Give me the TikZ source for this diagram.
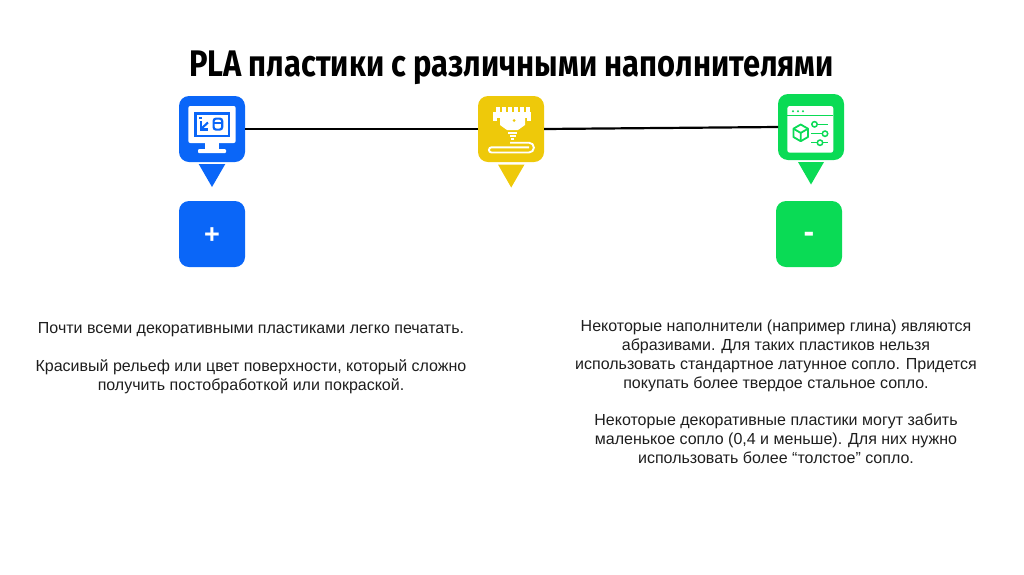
\documentclass[tikz,border=0pt]{standalone}
\usepackage{fontspec}
\setmainfont{Liberation Sans}
\newfontfamily\titlefont[FakeStretch=0.835]{Fira Sans}
\definecolor{tileblue}{HTML}{0A66F8}
\definecolor{tileyellow}{HTML}{EEC90A}
\definecolor{tilegreen}{HTML}{0ADB55}
\definecolor{bodytext}{HTML}{1E1E1E}
\tikzset{
  tile/.style={minimum size=66pt,inner sep=0pt,outer sep=0pt,rounded corners=10pt,text=white,
    font=\fontsize{27}{27}\selectfont\bfseries},
  wire/.style={line width=2.2pt,black},
  note/.style={align=center,text=bodytext,inner sep=0pt,font=\fontsize{16}{19}\selectfont},
  iconline/.style={white,line width=1.9pt}
}
\begin{document}
\begin{tikzpicture}[x=1pt,y=-1pt]
  \useasboundingbox (0,0) rectangle (1024,574);
  \node (title) at (511.5,68) [font=\fontsize{37}{37}\selectfont\titlefont\bfseries,inner sep=0pt] {PLA пластики с различными наполнителями};
  % icon tiles
  \node (tile_monitor) at (212,129) [tile,fill=tileblue] {};
  \node (tile_printer) at (511,129) [tile,fill=tileyellow] {};
  \node (tile_window) at (811,127) [tile,fill=tilegreen] {};
  \draw[wire] (tile_monitor.east) -- (tile_printer.west);
  \draw[wire] (tile_printer.east) -- (tile_window.west);
  % pointers
  \fill[tileblue] (198.7,164) -- (225.3,164) -- (212,187) -- cycle;
  \fill[tileyellow] (498,164.5) -- (524.5,164.5) -- (511.2,187.5) -- cycle;
  \fill[tilegreen] (798,162) -- (824,162) -- (811,184.5) -- cycle;
  % plus and minus tiles
  \node (tile_plus) at (212,234) [tile,fill=tileblue] {\raisebox{-9pt}[7pt][7pt]{+}};
  \node (tile_minus) at (809,234) [tile,fill=tilegreen,font=\fontsize{32}{32}\selectfont\bfseries] {\raisebox{-8.4pt}[2.1pt][2.1pt]{-}};
  % monitor icon
  \fill[white,rounded corners=2pt] (188.3,106) rectangle (235.7,143);
  \fill[tileblue] (194,112) rectangle (230,137);
  \fill[white] (196.5,114.5) rectangle (227.5,134.5);
  \fill[white] (205,143) rectangle (219,149);
  \fill[white,rounded corners=1pt] (198,149) rectangle (226,153);
  \fill[tileblue] (199.3,116.5) rectangle (201.9,119);
  \draw[tileblue,line width=2.1pt] (200.6,121) -- (200.6,129.5) -- (208,129.5);
  \draw[tileblue,line width=2.1pt] (201.5,128.5) -- (208,122.5);
  \draw[tileblue,line width=2.2pt,rounded corners=2.5pt] (213.6,118.6) rectangle (222.2,129.6);
  \draw[tileblue,line width=1.8pt] (213.6,122.8) -- (222.2,122.8);
  % printer icon
  \fill[white] (493,112) rectangle (531,118);
  \foreach \tooth in {0,...,5} \fill[white] ({496+\tooth*6},107) rectangle ({499.5+\tooth*6},112);
  \fill[white] (493,112) rectangle (497,121);
  \fill[white] (527,112) rectangle (531,121);
  \fill[white] (500,118) -- (525,118) -- (525,125) -- (518,130) -- (507,130) -- (500,125) -- cycle;
  \fill[tileyellow] (514,120.5) circle (1.5);
  \fill[white] (508,131.5) rectangle (517,133.5);
  \fill[white] (509.5,135) rectangle (515.5,137);
  \fill[white] (511,138) rectangle (514,139.5);
  \draw[iconline] (510,142.7) -- (529,142.7) arc (-90:90:4.9) -- (491.5,152.5) arc (90:270:2.6) -- (529,147.3);
  % window icon
  \fill[white,rounded corners=2.5pt] (787.3,106) rectangle (833.3,152.7);
  \draw[tilegreen,line width=1.2pt] (787.3,115.7) -- (833.3,115.7);
  \foreach \dotx in {793,798,803} \fill[tilegreen] (\dotx,111.3) circle (1.1);
  \draw[tilegreen,line width=1.8pt,line join=round] (800.7,124.5) -- (808,128.7) -- (808,137) -- (800.7,141.2) -- (793.4,137) -- (793.4,128.7) -- cycle;
  \draw[tilegreen,line width=1.8pt,line join=round] (793.4,128.7) -- (800.7,132.9) -- (808,128.7) (800.7,132.9) -- (800.7,141.2);
  \draw[tilegreen,line width=1.5pt] (811.7,124.3) -- (828,124.3) (811,133.7) -- (827,133.7) (811,142.7) -- (828,142.7);
  \foreach \knobx/\knoby in {814.5/124.3,825/133.7,820/142.7} \draw[tilegreen,fill=white,line width=1.5pt] (\knobx,\knoby) circle (2.7);
  % notes
  \node (note_plus) at (251,358) [note] {Почти всеми декоративными пластиками легко печатать.\\[19pt]Красивый рельеф или цвет поверхности, который сложно\\получить постобработкой или покраской.};
  \node (note_minus) at (776,391.5) [note] {Некоторые наполнители (например глина) являются\\абразивами. Для таких пластиков нельзя\\использовать стандартное латунное сопло. Придется\\покупать более твердое стальное сопло.\\[18pt]Некоторые декоративные пластики могут забить\\маленькое сопло (0,4 и меньше). Для них нужно\\использовать более “толстое” сопло.};
\end{tikzpicture}
\end{document}
